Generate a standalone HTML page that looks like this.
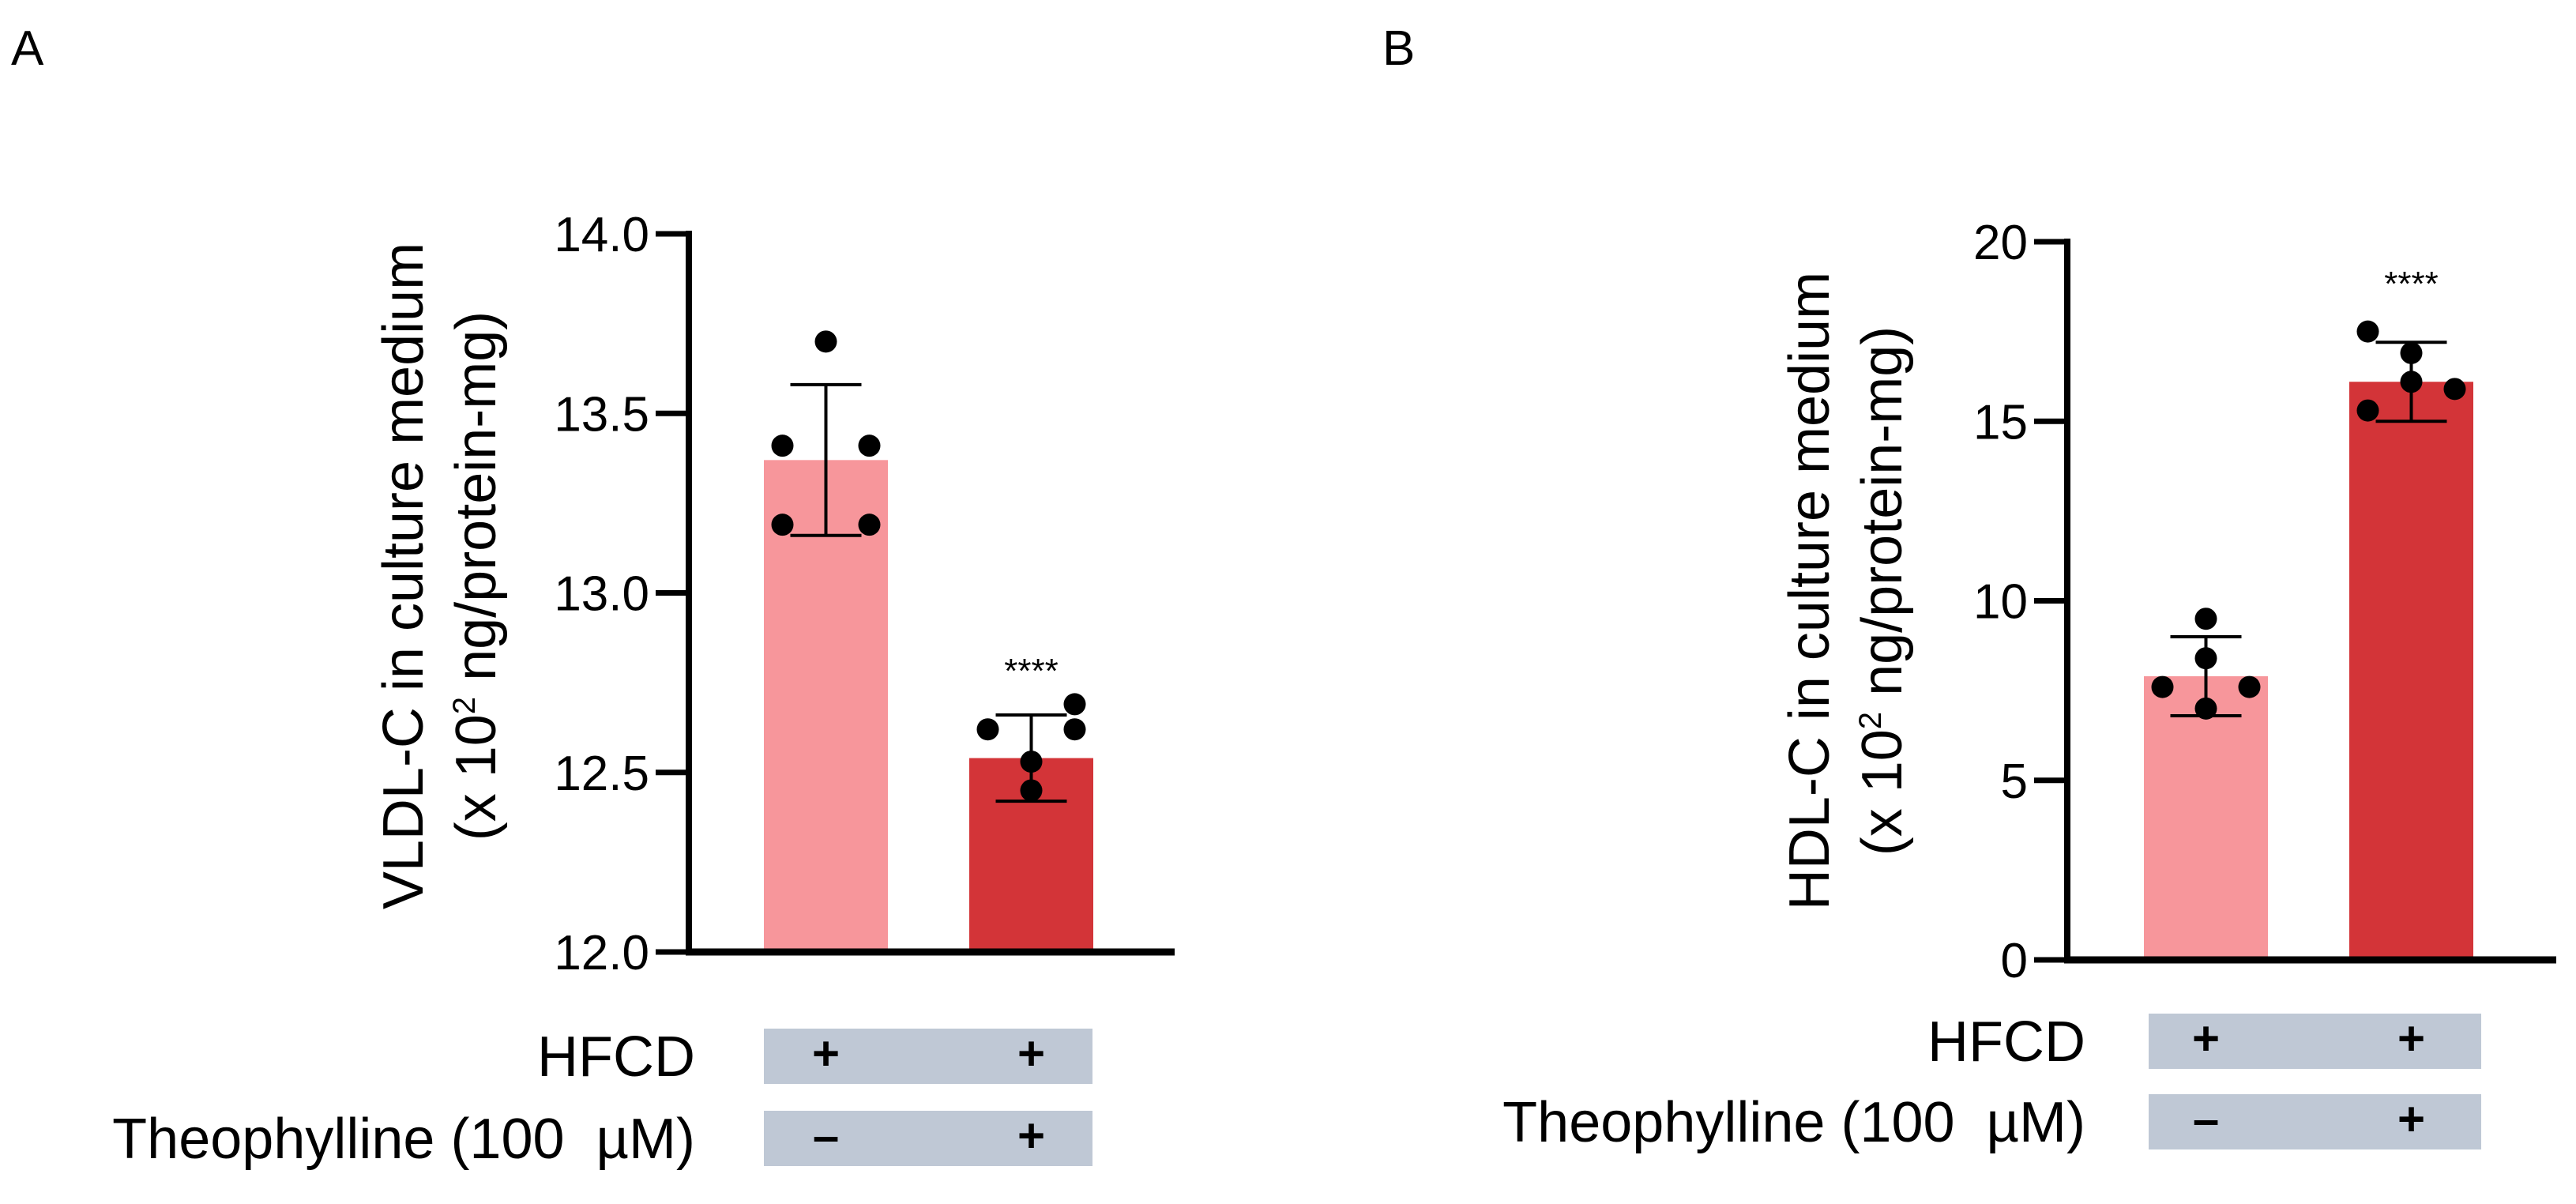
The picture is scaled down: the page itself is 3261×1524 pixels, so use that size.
<!DOCTYPE html>
<html><head><meta charset="utf-8"><style>
html,body{margin:0;padding:0;background:#fff;}
svg{display:block;font-family:"Liberation Sans",Arial,sans-serif;}
</style></head><body>
<svg id="fig" width="3261" height="1524" viewBox="0 0 3261 1524">
<text x="14" y="82" font-size="62">A</text>
<text x="1750" y="82" font-size="62">B</text>
<g id="pa"></g>
<g id="pb"></g>
</svg>
<script>
const NS="http://www.w3.org/2000/svg";
// Panel A data
const aTicks=[12.0,12.5,13.0,13.5,14.0];
const aTickLabels=["12.0","12.5","13.0","13.5","14.0"];
const aMeans=[13.37,12.54];
const aSD=[0.21,0.12];
const aPoints=[[13.70,13.41,13.41,13.19,13.19],[12.69,12.62,12.62,12.53,12.45]];
const aOffsets=[[0,-1,1,-1,1],[1,-1,1,0,0]];
// Panel B data
const bTicks=[0,5,10,15,20];
const bTickLabels=["0","5","10","15","20"];
const bMeans=[7.9,16.1];
const bSD=[1.1,1.1];
const bPoints=[[9.5,8.4,7.6,7.6,7.0],[17.5,16.9,16.1,15.9,15.3]];
const bOffsets=[[0,0,-1,1,0],[-1,0,0,1,-1]];
const hfcd=["+","+"];
const theo=["\u2013","+"];

function el(tag,attrs,parent,txt){const e=document.createElementNS(NS,tag);for(const k in attrs)e.setAttribute(k,attrs[k]);if(txt!==undefined)e.textContent=txt;parent.appendChild(e);return e;}

function panel(g,cfg){
  const y=v=>cfg.y0-(v-cfg.min)/(cfg.max-cfg.min)*(cfg.y0-cfg.y1);
  cfg.means.forEach((m,i)=>{
    const b=el("rect",{x:cfg.barX[i],y:y(m),width:cfg.barW,height:cfg.y0-y(m),fill:cfg.colors[i]},g);
    
    
  });
  cfg.means.forEach((m,i)=>{
    const cx=cfg.barX[i]+cfg.barW/2;
    const e=el("g",{stroke:"#000","stroke-width":4},g);
    
    
    el("line",{x1:cx,x2:cx,y1:y(m+cfg.sd[i]),y2:y(m-cfg.sd[i])},e);
    el("line",{x1:cx-45,x2:cx+45,y1:y(m+cfg.sd[i]),y2:y(m+cfg.sd[i])},e);
    el("line",{x1:cx-45,x2:cx+45,y1:y(m-cfg.sd[i]),y2:y(m-cfg.sd[i])},e);
  });
  cfg.points.forEach((arr,i)=>{
    const cx=cfg.barX[i]+cfg.barW/2;
    arr.forEach((v,j)=>{
      const c=el("circle",{cx:cx+cfg.offsets[i][j]*55,cy:y(v),r:14,fill:"#000"},g);
      
      
    });
  });
  const ya=el("line",{x1:cfg.ax,x2:cfg.ax,y1:cfg.y1-4,y2:cfg.y0+4,stroke:"#000","stroke-width":8},g);
  
  
  const xa=el("line",{x1:cfg.ax-4,x2:cfg.xEnd,y1:cfg.y0,y2:cfg.y0,stroke:"#000","stroke-width":9},g);
  
  
  cfg.ticks.forEach((t,i)=>{
    el("line",{x1:cfg.ax-42,x2:cfg.ax,y1:y(t),y2:y(t),stroke:"#000","stroke-width":7},g);
    const tl=el("text",{x:cfg.ax-50,y:y(t)+22,"font-size":62,"text-anchor":"end"},g,cfg.tickLabels[i]);
    
    
  });
  const st=el("text",{x:cfg.barX[1]+cfg.barW/2,y:cfg.starY,"font-size":44,"text-anchor":"middle"},g,"****");
  
  
  const tt=el("text",{transform:`translate(${cfg.tx},${cfg.ty}) rotate(-90)`,"font-size":72,"text-anchor":"middle"},g);
  
  
  el("tspan",{x:0,y:0},tt,cfg.title);
  el("tspan",{x:0,y:92},tt,"(x 10");
  el("tspan",{"font-size":40,dy:-26},tt,"2");
  el("tspan",{dy:26},tt," ng/protein-mg)");
  [[hfcd,cfg.r1,"HFCD"],[theo,cfg.r2,"Theophylline (100\u00a0\u00a0\u00b5M)"]].forEach(([arr,ry,lab],k)=>{
    const r=el("rect",{x:cfg.tabX,y:ry,width:cfg.tabW,height:70,fill:"#bfc8d5"},g);
    
    
    const l=el("text",{x:cfg.labR,y:ry+60,"font-size":72,"text-anchor":"end"},g,lab);
    
    
    arr.forEach((s,i)=>{
      const tx=el("text",{x:cfg.barX[i]+cfg.barW/2,y:ry+52,"font-size":60,"font-weight":"bold","text-anchor":"middle"},g,s);
      
      
    });
  });
}
panel(document.getElementById('pa'),{min:12,max:14,y0:1205,y1:296,ax:872,xEnd:1487,barX:[967,1227],barW:157,
  colors:["#f7969b","#d33438"],means:aMeans,sd:aSD,points:aPoints,offsets:aOffsets,ticks:aTicks,tickLabels:aTickLabels,
  starY:864,tx:535,ty:729,title:"VLDL-C in culture medium",tabX:967,tabW:416,r1:1302,r2:1406,labR:880});
panel(document.getElementById('pb'),{min:0,max:20,y0:1215,y1:306,ax:2617,xEnd:3236,barX:[2714,2974],barW:157,
  colors:["#f7969b","#d33438"],means:bMeans,sd:bSD,points:bPoints,offsets:bOffsets,ticks:bTicks,tickLabels:bTickLabels,
  starY:374,tx:2315,ty:748,title:"HDL-C in culture medium",tabX:2720,tabW:421,r1:1283,r2:1385,labR:2640});
</script>
</body></html>
